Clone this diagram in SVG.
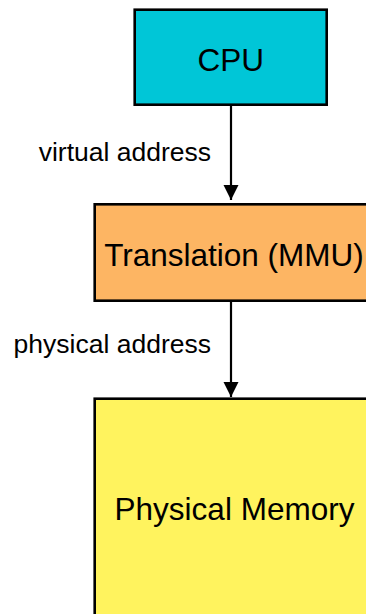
<svg xmlns="http://www.w3.org/2000/svg" width="366" height="614" viewBox="0 0 366 614">
  <style>
    .box { stroke: #000; stroke-width: 2.6; }
    .lbl { font-family: "Liberation Sans", Arial, sans-serif; font-size: 31.5px; fill: #000; text-anchor: middle; }
    .elbl { font-family: "Liberation Sans", Arial, sans-serif; font-size: 26.5px; fill: #000; text-anchor: end; }
    .edge { stroke: #000; stroke-width: 2.2; fill: none; }
  </style>
  <defs>
    <marker id="arrow" markerUnits="userSpaceOnUse" markerWidth="16" markerHeight="16" refX="15" refY="7.5" orient="auto">
      <path d="M0,0 L15,7.5 L0,15 Z" fill="#000"/>
    </marker>
  </defs>
  <rect width="366" height="614" fill="#fff"/>
  <g id="cpu">
    <rect class="box" x="134.7" y="9.7" width="192" height="95" fill="#00C6D7"/>
    <text class="lbl" x="230.7" y="70.5">CPU</text>
  </g>
  <g id="mmu">
    <rect class="box" x="94.7" y="204.3" width="272.6" height="96.4" fill="#FDB563"/>
    <text class="lbl" x="234" y="266">Translation (MMU)</text>
  </g>
  <g id="memory">
    <rect class="box" x="94.7" y="398.7" width="272.6" height="260" fill="#FFF35E"/>
    <text class="lbl" x="234.5" y="520">Physical Memory</text>
  </g>
  <g id="connectors">
    <line class="edge" x1="231" y1="106" x2="231" y2="200" marker-end="url(#arrow)"/>
    <text class="elbl" x="211" y="161">virtual address</text>
    <line class="edge" x1="231" y1="302" x2="231" y2="397" marker-end="url(#arrow)"/>
    <text class="elbl" x="211" y="353">physical address</text>
  </g>
</svg>
